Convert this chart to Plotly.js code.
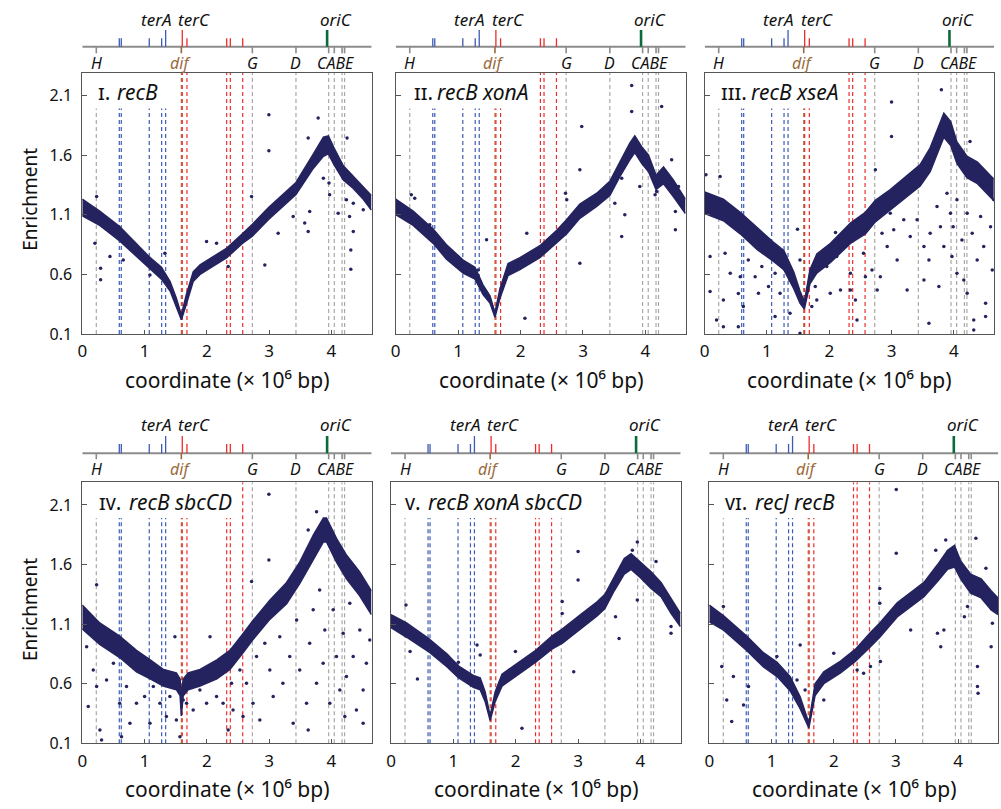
<!DOCTYPE html>
<html><head><meta charset="utf-8">
<script src="https://cdn.plot.ly/plotly-3.0.1.min.js"></script>
<style>html,body{margin:0;padding:0;background:#fff}#chart{width:1001px;height:809px}</style>
</head><body><div id="chart"></div>
<script>
// ---------- genome features (Mb) ----------
const rrnNames = ['H','G','D','C','A','B','E'];
const rrnPos   = [0.225, 2.73, 3.43, 3.955, 4.045, 4.17, 4.21];
const terBlue  = [0.594, 0.626, 1.075, 1.274, 1.338];
const terRed   = [1.605, 1.68, 2.318, 2.376, 2.575];
const difPos   = 1.59;
const oriCPos  = 3.93;
const terAPos  = 1.338;
const terCPos  = 1.605;

// ---------- panel titles (small-capital roman numerals) ----------
const panelNum   = ['ɪ.', 'ɪɪ.', 'ɪɪɪ.', 'ɪᴠ.', 'ᴠ.', 'ᴠɪ.'];
const panelGenes = ['recB', 'recB xonA', 'recB xseA', 'recB sbcCD', 'recB xonA sbcCD', 'recJ recB'];
const lineCut    = [1.4, 2.2, 2.2, 2.45, 3.2, 2.05];

const xTicks = [0, 1, 2, 3, 4];
const yTicks = [0.1, 0.6, 1.1, 1.6, 2.1];
const yTickText = ['0.1', '0.6', '1.1', '1.6', '2.1'];

// ---------- dense band (upper / lower envelope) ----------
const pos1 = [0,0.28,0.6,1.07,1.27,1.41,1.51,1.59,1.67,1.78,1.89,2.05,2.32,2.57,2.73,2.99,3.43,3.71,3.87,3.95,4.04,4.19,4.35,4.51,4.64];
const hi1  = [1.23,1.13,1.00,0.75,0.66,0.54,0.40,0.26,0.43,0.62,0.68,0.73,0.82,0.94,1.02,1.16,1.37,1.61,1.75,1.76,1.66,1.51,1.42,1.33,1.26];
const lo1  = [1.09,1.01,0.88,0.65,0.56,0.46,0.32,0.22,0.35,0.54,0.60,0.65,0.74,0.86,0.92,1.06,1.27,1.49,1.59,1.61,1.52,1.39,1.32,1.23,1.14];

const pos2 = [0,0.28,0.6,0.81,1.08,1.27,1.40,1.51,1.59,1.67,1.80,1.99,2.31,2.58,2.74,2.95,3.22,3.43,3.59,3.75,3.83,3.94,4.05,4.17,4.29,4.45,4.64];
const hi2  = [1.23,1.13,0.98,0.85,0.72,0.66,0.51,0.42,0.28,0.48,0.69,0.74,0.84,0.97,1.06,1.19,1.28,1.38,1.54,1.70,1.76,1.67,1.60,1.43,1.50,1.39,1.23];
const lo2  = [1.10,1.01,0.86,0.73,0.61,0.56,0.43,0.36,0.24,0.40,0.59,0.64,0.74,0.87,0.94,1.07,1.17,1.26,1.42,1.56,1.62,1.53,1.46,1.31,1.36,1.25,1.11];

const pos3 = [0,0.3,0.57,0.84,1.10,1.27,1.43,1.53,1.60,1.69,1.80,2.02,2.34,2.58,2.74,2.98,3.25,3.46,3.62,3.79,3.84,3.95,4.05,4.21,4.38,4.64];
const hi3  = [1.29,1.23,1.12,0.99,0.87,0.80,0.62,0.46,0.37,0.64,0.77,0.86,1.03,1.12,1.22,1.31,1.43,1.52,1.66,1.88,1.95,1.88,1.71,1.59,1.54,1.40];
const lo3  = [1.11,1.05,0.94,0.81,0.71,0.64,0.48,0.36,0.31,0.52,0.61,0.70,0.86,0.94,1.04,1.14,1.25,1.34,1.46,1.68,1.75,1.68,1.53,1.41,1.36,1.22];

const pos4 = [0,0.28,0.6,0.87,1.09,1.30,1.51,1.57,1.59,1.62,1.70,1.89,2.16,2.37,2.58,2.74,3.01,3.28,3.49,3.71,3.87,3.92,4.08,4.24,4.45,4.64];
const hi4  = [1.26,1.11,1.00,0.88,0.80,0.72,0.69,0.64,0.50,0.64,0.69,0.72,0.80,0.88,1.02,1.13,1.30,1.45,1.62,1.85,1.99,1.99,1.82,1.68,1.54,1.38];
const lo4  = [1.06,0.93,0.82,0.70,0.64,0.58,0.55,0.50,0.33,0.50,0.55,0.58,0.64,0.72,0.86,0.97,1.14,1.27,1.44,1.65,1.79,1.79,1.62,1.48,1.34,1.18];

const pos5 = [0,0.25,0.6,0.9,1.08,1.32,1.43,1.51,1.59,1.67,1.78,1.97,2.32,2.58,2.75,3.04,3.31,3.43,3.58,3.74,3.85,4.0,4.17,4.33,4.49,4.64];
const hi5  = [1.18,1.11,0.98,0.85,0.75,0.67,0.65,0.53,0.33,0.53,0.68,0.75,0.88,1.00,1.06,1.18,1.29,1.35,1.50,1.65,1.69,1.62,1.54,1.45,1.31,1.19];
const lo5  = [1.07,0.99,0.87,0.74,0.65,0.57,0.55,0.45,0.29,0.45,0.58,0.65,0.78,0.89,0.94,1.06,1.17,1.23,1.38,1.52,1.56,1.49,1.40,1.33,1.19,1.08];

const pos6 = [0,0.23,0.6,0.87,1.09,1.30,1.46,1.60,1.70,1.84,2.11,2.35,2.59,2.74,3.02,3.29,3.45,3.67,3.83,3.94,4.04,4.20,4.37,4.53,4.64];
const hi6  = [1.26,1.17,1.00,0.86,0.78,0.66,0.49,0.27,0.60,0.70,0.79,0.89,1.03,1.11,1.28,1.39,1.45,1.60,1.72,1.76,1.63,1.52,1.48,1.38,1.32];
const lo6  = [1.12,1.05,0.88,0.74,0.66,0.54,0.39,0.23,0.50,0.60,0.69,0.79,0.91,0.99,1.16,1.27,1.33,1.46,1.56,1.58,1.48,1.36,1.32,1.22,1.18];

// ---------- scattered points outside the dense band ----------
const outX1 = [2.995,2.995,3.786,3.626,4.25,0.23,0.294,0.294,2.717,2.93,3.626,3.65,3.57,3.87,3.96,3.97,4.29,4.35,4.31,4.31,4.51,4.35,1.995,2.155,3.144,3.385,1.086,1.326,0.658,0.444,0.203,2.342,4.107,4.24];
const outY1 = [1.938,1.636,1.91,1.742,1.742,1.253,0.651,0.554,1.253,0.679,0.959,1.127,1.03,1.406,1.365,1.267,1.085,0.959,0.805,0.643,1.141,1.197,0.875,0.861,0.945,1.085,0.595,0.777,0.721,0.749,0.861,0.665,1.113,1.225];

const outX2 = [3.78,3.78,4.26,2.98,3.62,3.67,3.62,2.95,2.07,4.48,4.48,4.155,4.18,4.42,4.53,3.91,2.95,2.72,2.1,1.455,0.25,0.305,0.545,2.74,1.32,3.51];
const outY2 = [2.184,1.966,2.008,1.84,1.406,1.10,0.917,0.693,0.232,1.127,0.973,1.267,1.295,1.56,1.337,1.337,1.476,1.28,0.945,0.89,1.267,1.239,1.015,1.225,0.637,1.197];

const outX3 = [3.8,3.0,3.0,2.74,0.02,0.247,1.49,2.1,4.26,4.375,0.086,0.086,0.19,0.3,0.3,0.327,0.41,0.54,0.57,0.54,0.62,0.70,0.81,0.863,0.917,1.024,1.13,1.13,1.21,1.265,1.37,1.37,1.53,1.53,1.72,1.775,1.8,1.96,2.016,2.12,2.18,2.34,2.34,2.42,2.445,2.55,2.58,2.686,2.77,2.82,2.847,2.93,2.98,3.035,3.09,3.196,3.25,3.30,3.41,3.52,3.52,3.6,3.6,3.62,3.73,3.76,3.785,3.84,3.89,3.946,3.97,3.99,4.05,4.05,4.13,4.16,4.214,4.214,4.295,4.32,4.32,4.375,4.43,4.48,4.51,4.51,4.59,4.617,4.643];
const outY3 = [2.148,2.044,1.756,1.476,1.434,1.42,0.979,0.951,1.714,1.504,0.749,0.456,0.218,0.386,0.162,0.777,0.61,0.44,0.58,0.162,0.33,0.721,0.58,0.442,0.665,0.498,0.61,0.246,0.442,0.693,0.553,0.274,0.106,0.721,0.33,0.498,0.386,0.665,0.442,0.749,0.47,0.61,0.47,0.386,0.218,0.777,0.58,0.637,0.47,0.58,0.945,0.833,1.113,0.973,0.721,1.057,0.47,0.917,1.057,0.833,0.553,0.721,0.19,0.945,1.169,0.498,1.0,0.833,1.28,1.113,0.749,1.0,1.225,0.61,0.889,0.553,1.113,0.442,0.945,0.218,0.134,0.721,1.085,0.833,0.358,0.246,1.0,0.637,1.225];

const outX4 = [2.995,3.76,2.995,0.23,2.717,3.626,0.07,0.096,0.176,0.23,0.283,0.31,0.39,0.5,0.6,0.63,0.71,0.765,0.87,1.0,1.086,1.14,1.246,1.35,1.406,1.487,1.51,1.567,1.62,1.674,1.78,1.888,1.995,2.05,2.155,2.26,2.342,2.396,2.42,2.53,2.58,2.636,2.74,2.797,2.85,2.93,3.01,3.064,3.17,3.22,3.33,3.385,3.44,3.49,3.6,3.626,3.65,3.706,3.76,3.81,3.866,3.893,3.973,4.027,4.08,4.134,4.187,4.214,4.24,4.294,4.348,4.4,4.455,4.508,4.508,4.56,4.615];
const outY4 = [2.19,2.044,1.638,1.43,1.457,1.89,0.911,0.408,0.716,0.576,0.212,0.128,0.632,0.772,0.436,0.156,0.576,0.268,0.436,0.492,0.268,0.576,0.436,0.324,0.492,0.995,0.296,0.156,0.464,0.436,0.38,0.548,0.436,0.995,0.492,0.436,0.212,0.604,0.38,0.716,0.324,0.604,0.436,0.828,0.296,0.94,0.716,0.492,0.995,0.604,0.828,0.268,1.135,0.716,0.436,0.212,0.94,1.22,0.604,1.387,0.772,1.051,0.436,1.22,0.828,0.548,1.023,0.324,0.66,1.275,0.828,0.38,1.051,0.548,0.268,0.772,0.967];

const outX5 = [3.95,3.87,3.0,3.0,2.745,2.745,0.24,0.306,0.424,1.08,1.38,1.995,2.1,2.93,3.657,3.6,4.25,4.49,4.49,3.95,1.43,2.13];
const outY5 = [1.79,1.72,1.71,1.47,1.289,1.19,1.26,0.87,0.64,0.78,0.925,0.87,0.226,0.70,0.98,1.163,1.625,1.023,1.08,1.303,0.842,0.772];

const outX6 = [3.005,3.005,3.8,4.285,3.64,4.446,2.74,2.74,2.75,0.226,0.2,0.28,0.36,0.55,0.63,0.387,1.086,1.46,1.41,1.54,1.84,2.0,2.376,2.48,2.59,3.236,3.72,3.667,3.77,4.31,4.31,4.32,4.53,4.55,4.15,4.1];
const outY6 = [2.23,1.695,1.806,1.82,1.72,1.57,1.275,1.40,0.786,1.247,0.744,0.464,0.282,0.422,0.576,0.66,0.828,0.926,0.632,0.548,0.464,0.855,0.716,0.688,0.744,1.051,0.911,1.023,1.051,0.744,0.576,0.52,0.911,1.107,1.247,1.163];

// ---------- assembly ----------
const NAVY = '#25235f';
const FONT = 'Noto Sans, DejaVu Sans, sans-serif';
const XMAX = 4.645, YMIN = 0.1, YMAX = 2.29, YCUT = 1.99;
const bands = [[pos1,hi1,lo1],[pos2,hi2,lo2],[pos3,hi3,lo3],[pos4,hi4,lo4],[pos5,hi5,lo5],[pos6,hi6,lo6]];
const outs = [[outX1,outY1],[outX2,outY2],[outX3,outY3],[outX4,outY4],[outX5,outY5],[outX6,outY6]];

const xdom = [[0.0822,0.3713],[0.3953,0.6850],[0.7040,0.9930],[0.0822,0.3713],[0.3906,0.6800],[0.7086,0.9973]];
const ydom = [[0.5871,0.9101],[0.0812,0.4038]];
const strip = [
  {line:0.9423, tall:0.9629, short:0.9527, tick:0.9341, up:0.9753, low:0.9218, title:0.8863, xt:0.5303, yt:0.7530},
  {line:0.4397, tall:0.4611, short:0.4512, tick:0.4323, up:0.4747, low:0.4199, title:0.3795, xt:0.0247, yt:0.2460}
];
const numX  = [96, 411.7, 719.3, 97.3, 402.7, 722.7];
const geneX = [115, 435, 749.3, 126.7, 426, 753.3];

const traces = [], shapes = [], annotations = [];
const layout = {
  width: 1001, height: 809, margin: {l:0, r:0, t:0, b:0},
  paper_bgcolor: '#fff', plot_bgcolor: '#fff', showlegend: false,
  font: {family: FONT, color: '#111', size: 16}
};

for (let k = 0; k < 6; k++) {
  const sfx = k === 0 ? '' : String(k + 1);
  const xa = 'x' + sfx, ya = 'y' + sfx;
  const row = k < 3 ? 0 : 1;
  const S = strip[row];

  layout['xaxis' + sfx] = {
    domain: xdom[k], anchor: ya, range: [0, XMAX], tickvals: xTicks,
    ticks: 'inside', ticklen: 4, tickcolor: '#555', showline: true, mirror: true,
    linecolor: '#555', linewidth: 1, showgrid: false, zeroline: false,
    tickfont: {size: 17, family: FONT, color: '#111'}, ticklabelstandoff: 2
  };
  layout['yaxis' + sfx] = {
    domain: ydom[row], anchor: xa, range: [YMIN, YMAX], tickvals: yTicks, ticktext: yTickText,
    ticks: 'inside', ticklen: 5, tickcolor: '#555', showline: true, mirror: true,
    linecolor: '#555', linewidth: 1, showgrid: false, zeroline: false,
    showticklabels: (k === 0 || k === 3),
    tickfont: {size: 16, family: FONT, color: '#111'}, ticklabelstandoff: 6
  };

  // dense band
  const [p, hi, lo] = bands[k];
  traces.push({x: p, y: lo, xaxis: xa, yaxis: ya, mode: 'lines', line: {color: NAVY, width: 1.5}, hoverinfo: 'skip'});
  traces.push({x: p, y: hi, xaxis: xa, yaxis: ya, mode: 'lines', fill: 'tonexty', fillcolor: NAVY, line: {color: NAVY, width: 1.5}, hoverinfo: 'skip'});
  // scattered points
  traces.push({x: outs[k][0], y: outs[k][1], xaxis: xa, yaxis: ya, mode: 'markers',
               marker: {color: NAVY, size: 3.5}, hoverinfo: 'skip'});

  // dashed vertical lines
  const addDash = (x, color) => {
    shapes.push({type: 'line', xref: xa, yref: ya, x0: x, x1: x, y0: YMIN, y1: x < lineCut[k] ? YCUT : YMAX,
                 line: {color: color, width: 1.2, dash: '4px,3px'}, layer: 'below'});
  };
  rrnPos.forEach(x => addDash(x, '#a8a8a8'));
  terBlue.forEach(x => addDash(x, '#3d5bb5'));
  addDash(difPos, '#b0703a');
  terRed.forEach(x => addDash(x, '#ee2b2b'));

  // genome map strip
  shapes.push({type: 'line', xref: xa, yref: 'paper', x0: 0, x1: XMAX, y0: S.line, y1: S.line,
               line: {color: '#8c8c8c', width: 2}});
  rrnPos.forEach(x => shapes.push({type: 'line', xref: xa, yref: 'paper', x0: x, x1: x, y0: S.line, y1: S.tick,
               line: {color: '#8c8c8c', width: 1.6}}));
  shapes.push({type: 'line', xref: xa, yref: 'paper', x0: difPos, x1: difPos, y0: S.line, y1: S.tick,
               line: {color: '#9b6a3c', width: 1.6}});
  terBlue.forEach(x => shapes.push({type: 'line', xref: xa, yref: 'paper', x0: x, x1: x, y0: S.line,
               y1: x === terAPos ? S.tall : S.short, line: {color: '#3d5bb5', width: 1.3}}));
  terRed.forEach(x => shapes.push({type: 'line', xref: xa, yref: 'paper', x0: x, x1: x, y0: S.line,
               y1: x === terCPos ? S.tall : S.short, line: {color: '#ee2b2b', width: 1.3}}));
  shapes.push({type: 'line', xref: xa, yref: 'paper', x0: oriCPos, x1: oriCPos, y0: S.line, y1: S.tall,
               line: {color: '#0c6b3a', width: 2.6}});

  const lab = (txt, x, y, size, color) => annotations.push({xref: xa, yref: 'paper', x: x, y: y, text: txt,
               showarrow: false, xanchor: 'center', yanchor: 'middle', font: {size: size, family: FONT, color: color, style: 'italic'}});
  lab('terA', 1.18, S.up, 17, '#111');
  lab('terC', 1.80, S.up, 17, '#111');
  lab('oriC', 4.07, S.up, 17, '#111');
  lab('H', rrnPos[0], S.low, 16, '#111');
  lab('dif', 1.57, S.low, 16, '#9b6a3c');
  lab('G', rrnPos[1], S.low, 16, '#111');
  lab('D', rrnPos[2], S.low, 16, '#111');
  lab('CABE', 4.07, S.low, 16, '#111');

  // panel title: numeral + genotype
  annotations.push({xref: 'paper', yref: 'paper', x: numX[k] / 1001, y: S.title, xanchor: 'left', yanchor: 'middle',
    showarrow: false, text: panelNum[k], font: {size: 21, family: FONT, color: '#111'}});
  annotations.push({xref: 'paper', yref: 'paper', x: geneX[k] / 1001, y: S.title, xanchor: 'left', yanchor: 'middle',
    showarrow: false, text: panelGenes[k], font: {size: 21, family: FONT, color: '#111', style: 'italic'}});
  // x axis title
  annotations.push({xref: 'paper', yref: 'paper', x: (xdom[k][0] + xdom[k][1]) / 2, y: S.xt, xanchor: 'center', yanchor: 'middle',
    showarrow: false, text: 'coordinate (× 10⁶ bp)', font: {size: 21, family: FONT, color: '#111'}});
  if (k === 0 || k === 3) {
    annotations.push({xref: 'paper', yref: 'paper', x: 30 / 1001, y: S.yt, xanchor: 'center', yanchor: 'middle',
      showarrow: false, textangle: -90, text: 'Enrichment', font: {size: 19, family: FONT, color: '#111'}});
  }
}
layout.shapes = shapes;
layout.annotations = annotations;
Plotly.newPlot('chart', traces, layout, {staticPlot: true, displayModeBar: false});
</script>
</body></html>
